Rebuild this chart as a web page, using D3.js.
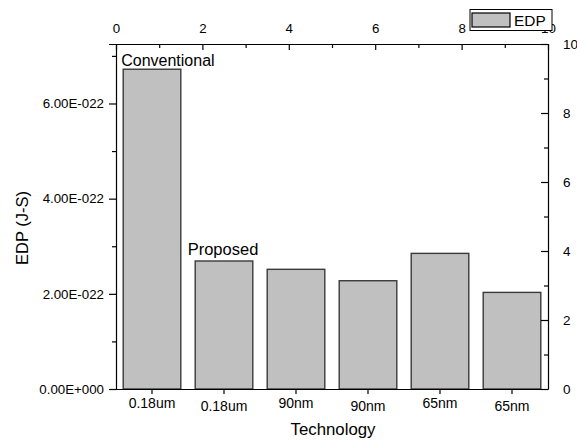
<!doctype html>
<html lang="en">
<head>
    <meta charset="utf-8">
    <title>EDP by technology</title>
    <script src="https://cdnjs.cloudflare.com/ajax/libs/d3/7.8.5/d3.min.js"></script>
    <style>
        body { margin: 0; background: #fff; }
        #chart text { font-family: "Liberation Sans", Arial, sans-serif; fill: #000; }
        .domain { stroke: #000; stroke-width: 1.2px; }
        .tick line { stroke: #000; stroke-width: 1.2px; }
    </style>
</head>
<body>
    <div id="chart"></div>
    <script>
        // data
        var categories = ["0.18um", "0.18um ", "90nm", "90nm ", "65nm", "65nm "];
        var edpValues = [6.72e-22, 2.69e-22, 2.515e-22, 2.275e-22, 2.85e-22, 2.03e-22];
        var leftTicks = [0, 2e-22, 4e-22, 6e-22];
        var leftTickLabels = ["0.00E+000", "2.00E-022", "4.00E-022", "6.00E-022"];
        var secondaryTicks = [0, 2, 4, 6, 8, 10];
        var barNotes = [{ index: 0, text: "Conventional" }, { index: 1, text: "Proposed" }];

        var width = 577, height = 441;
        var margin = { top: 44, right: 29, bottom: 52, left: 116 };
        var innerW = width - margin.left - margin.right;
        var innerH = height - margin.top - margin.bottom;

        var svg = d3.select("#chart").append("svg")
            .attr("width", width)
            .attr("height", height);

        var g = svg.append("g")
            .attr("transform", "translate(" + margin.left + "," + margin.top + ")");

        var x = d3.scaleBand()
            .domain(categories)
            .range([0, innerW])
            .paddingInner(0.2)
            .paddingOuter(0.1);

        var y = d3.scaleLinear()
            .domain([0, 7.25e-22])
            .range([innerH, 0]);

        // secondary scales shown on top and right
        var xTop = d3.scaleLinear().domain([0, 10]).range([0, innerW]);
        var yRight = d3.scaleLinear().domain([0, 10]).range([innerH, 0]);

        // bars
        g.selectAll("rect.bar")
            .data(edpValues)
            .enter()
            .append("rect")
            .attr("class", "bar")
            .attr("x", function(d, i) { return x(categories[i]); })
            .attr("y", function(d) { return y(d); })
            .attr("width", x.bandwidth())
            .attr("height", function(d) { return innerH - y(d); })
            .attr("fill", "#c0c0c0")
            .attr("stroke", "#3a3a3a")
            .attr("stroke-width", 1.4);

        // annotations over the first two bars
        // first one sits at the bar's left edge, second one is centred
        g.selectAll("text.note")
            .data(barNotes)
            .enter()
            .append("text")
            .attr("class", "note")
            .attr("x", function(d, i) {
                return i === 0 ? x(categories[d.index]) - 2 : x(categories[d.index]) + x.bandwidth() / 2 - 1;
            })
            .attr("y", function(d, i) { return y(edpValues[d.index]) - (i === 0 ? 3 : 6); })
            .attr("text-anchor", function(d, i) { return i === 0 ? "start" : "middle"; })
            .style("font-size", function(d, i) { return i === 0 ? "16px" : "16.5px"; })
            .text(function(d) { return d.text; });

        // left axis, major + minor
        var leftAxis = g.append("g")
            .call(d3.axisLeft(y).tickValues(leftTicks).tickSize(7).tickPadding(5)
                .tickFormat(function(d, i) { return leftTickLabels[i]; }));
        leftAxis.selectAll("text").style("font-size", "13.3px");
        g.append("g")
            .call(d3.axisLeft(y).tickValues([1e-22, 3e-22, 5e-22, 7e-22]).tickSize(4).tickFormat(""))
            .select(".domain").remove();

        // bottom axis, labels slightly staggered like the original
        var bottomAxis = g.append("g")
            .attr("transform", "translate(0," + innerH + ")")
            .call(d3.axisBottom(x).tickSize(5).tickSizeOuter(0));
        bottomAxis.selectAll("text")
            .style("font-size", "14px")
            .attr("y", function(d, i) { return i % 2 ? 21.5 : 19; })
            .attr("dy", "0");

        // top axis, ticks pointing inward
        var topAxis = g.append("g")
            .call(d3.axisTop(xTop).tickValues(secondaryTicks).tickSize(-6).tickPadding(11).tickSizeOuter(0));
        topAxis.selectAll("text").style("font-size", "13.3px");
        g.append("g")
            .call(d3.axisTop(xTop).tickValues([1, 3, 5, 7, 9]).tickSize(-4).tickFormat(""))
            .select(".domain").remove();

        // right axis, ticks pointing inward
        var rightAxis = g.append("g")
            .attr("transform", "translate(" + innerW + ",0)")
            .call(d3.axisRight(yRight).tickValues(secondaryTicks).tickSize(-7).tickPadding(15).tickSizeOuter(0));
        rightAxis.selectAll("text").style("font-size", "13.5px");
        g.append("g")
            .attr("transform", "translate(" + innerW + ",0)")
            .call(d3.axisRight(yRight).tickValues([1, 3, 5, 7, 9]).tickSize(-4).tickFormat(""))
            .select(".domain").remove();

        // axis titles
        svg.append("text")
            .attr("transform", "translate(27.5,228) rotate(-90)")
            .attr("text-anchor", "middle")
            .style("font-size", "16.5px")
            .text("EDP (J-S)");

        svg.append("text")
            .attr("x", 333)
            .attr("y", 434.5)
            .attr("text-anchor", "middle")
            .style("font-size", "16.8px")
            .text("Technology");

        // legend
        var legend = svg.append("g").attr("transform", "translate(470,9.5)");
        legend.append("rect")
            .attr("width", 82).attr("height", 21)
            .attr("fill", "#fff").attr("stroke", "#000").attr("stroke-width", 1);
        legend.append("rect")
            .attr("x", 2).attr("y", 3.5).attr("width", 38).attr("height", 14)
            .attr("fill", "#c0c0c0").attr("stroke", "#000").attr("stroke-width", 1.2);
        legend.append("text")
            .attr("x", 44).attr("y", 16.5)
            .style("font-size", "15.4px")
            .text("EDP");
    </script>
</body>
</html>
